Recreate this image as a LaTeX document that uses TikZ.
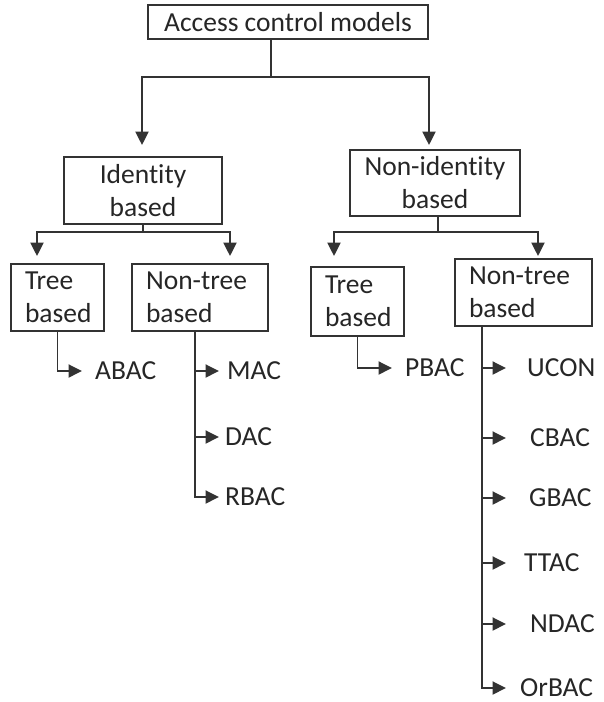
\documentclass[tikz,border=0pt]{standalone}
\usepackage{fontspec}
\setmainfont{Carlito}[RawFeature={-liga;-clig;-calt;-dlig}]
\usetikzlibrary{arrows.meta}
\definecolor{ink}{HTML}{262626}
\definecolor{wire}{HTML}{333333}
\begin{document}
\begin{tikzpicture}[x=1pt,y=-1pt,
  every node/.style={text=ink, font=\fontsize{27.5}{33}\selectfont},
  line/.style={draw=wire, line width=1.9pt},
  arr/.style={line, -{Triangle[length=13.5pt,width=13pt]}},
  cbox/.style={draw=wire, line width=1.9pt, inner sep=0pt, align=center},
  lbox/.style={draw=wire, line width=1.9pt, inner ysep=0pt, inner xsep=14pt, align=left},
  leaf/.style={inner sep=0pt, anchor=west}]
\useasboundingbox (0,0) rectangle (604,702);

% boxes
\node[cbox, minimum width=280pt, minimum height=34pt] (top) at (288,22) {Access control models};
\node[cbox, minimum width=158pt, minimum height=67pt] (id) at (143,190.5) {Identity\\based};
\node[cbox, minimum width=170pt, minimum height=66pt] (nid) at (435,183) {Non-identity\\based};
\node[lbox, text width=65pt, minimum height=67pt] (tl) at (57.5,297.5) {Tree\\based};
\node[lbox, text width=108pt, minimum height=67pt] (ntl) at (200,297.5) {Non-tree\\based};
\node[lbox, text width=65pt, minimum height=69pt] (tr) at (357.5,301.5) {Tree\\based};
\node[lbox, text width=109pt, minimum height=67pt] (ntr) at (523.5,292.5) {Non-tree\\based};

% leaf models
\node[leaf] (abac) at (95,371) {ABAC};
\node[leaf] (mac) at (227,371) {MAC};
\node[leaf] (dac) at (225,437) {DAC};
\node[leaf] (rbac) at (225,497) {RBAC};
\node[leaf] (pbac) at (405,368) {PBAC};
\node[leaf] (ucon) at (527,368) {UCON};
\node[leaf] (cbac) at (530,438) {CBAC};
\node[leaf] (gbac) at (529,498) {GBAC};
\node[leaf] (ttac) at (524,563) {TTAC};
\node[leaf] (ndac) at (530,624) {NDAC};
\node[leaf] (orbac) at (520,688) {OrBAC};

% first level split
\coordinate (j0) at (271,77);
\draw[line] (j0 |- top.south) -- (j0);
\draw[arr, shorten >=11pt] (j0) -| ([xshift=-1pt]id.north);
\draw[arr, shorten >=4pt] (j0) -| ([xshift=-6pt]nid.north);

% identity based split
\coordinate (j1) at (143,232);
\draw[line] (j1 |- id.south) -- (j1);
\draw[arr, shorten >=7pt] (j1) -| ([xshift=-20.5pt]tl.north);
\draw[arr, shorten >=7pt] (j1) -| ([xshift=30pt]ntl.north);

% non-identity based split
\coordinate (j2) at (438,232);
\draw[line] (j2 |- nid.south) -- (j2);
\draw[arr, shorten >=10pt] (j2) -| ([xshift=-23.5pt]tr.north);
\draw[arr, shorten >=2pt] (j2) -| ([xshift=14.5pt]ntr.north);

% identity based leaves
\draw[arr, shorten >=13pt] (tl.south) |- (abac.west);
\coordinate (s1) at ([xshift=-5pt]ntl.south);
\draw[arr, shorten >=8pt] (s1 |- mac.west) -- (mac.west);
\draw[arr, shorten >=6pt] (s1 |- dac.west) -- (dac.west);
\draw[arr, shorten >=6pt] (s1) |- (rbac.west);

% non-identity based leaves
\draw[arr, shorten >=13pt] (tr.south) |- (pbac.west);
\coordinate (s2) at ([xshift=-41.5pt]ntr.south);
\draw[arr, shorten >=21pt] (s2 |- ucon.west) -- (ucon.west);
\draw[arr, shorten >=24pt] (s2 |- cbac.west) -- (cbac.west);
\draw[arr, shorten >=23pt] (s2 |- gbac.west) -- (gbac.west);
\draw[arr, shorten >=18pt] (s2 |- ttac.west) -- (ttac.west);
\draw[arr, shorten >=24pt] (s2 |- ndac.west) -- (ndac.west);
\draw[arr, shorten >=14pt] (s2) |- (orbac.west);
\end{tikzpicture}
\end{document}
